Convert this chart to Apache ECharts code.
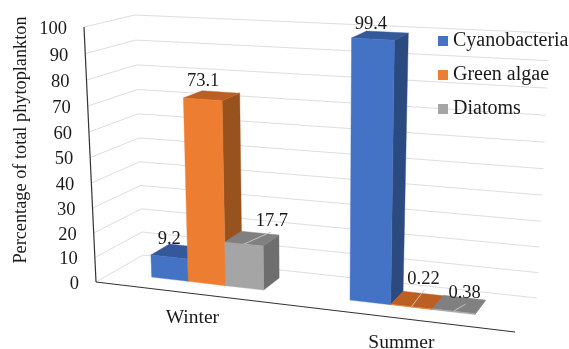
<!DOCTYPE html>
<html>
<head>
<meta charset="utf-8">
<style>html,body{margin:0;padding:0;background:#fff}#chart{width:569px;height:349px}</style>
<script src="https://cdn.jsdelivr.net/npm/echarts@6/dist/echarts.min.js"></script>
</head>
<body>
<div id="chart"></div>
<script>
// Phytoplankton composition by season
const seasons = ['Winter', 'Summer'];
const cyanobacteria = [9.2, 99.4];
const greenAlgae = [73.1, 0.22];
const diatoms = [17.7, 0.38];
const yTicks = [0, 10, 20, 30, 40, 50, 60, 70, 80, 90, 100];
const axisTitle = 'Percentage of total phytoplankton';

const SERIF = '"Liberation Serif", "Times New Roman", serif';

// Corners of the drawn box: floor and ceiling, front and back
const box = {
  floor: { fl: [96, 282], fr: [515, 332], bl: [143, 255], br: [537, 298] },
  roof:  { fl: [84, 27],  fr: [524, 53],  bl: [135, 15],  br: [550, 33] }
};
const lerp = (a, b, t) => [a[0] + (b[0] - a[0]) * t, a[1] + (b[1] - a[1]) * t];
const foreshorten = (t, q) => t / (t + (1 - t) * q);

function onPlane(plane, c, d) {
  return lerp(lerp(plane.fl, plane.fr, c), lerp(plane.bl, plane.br, c), d);
}
// u across, v up, d into the page, each in 0..1
function project(u, v, d) {
  const c = foreshorten(u, 1.116);
  return lerp(onPlane(box.floor, c, d), onPlane(box.roof, c, d), foreshorten(v, 1.05));
}
function unit(api, coordSys, cat, val) {
  const p = api.coord([cat, val]);
  return [(p[0] - coordSys.x) / coordSys.width, 1 - (p[1] - coordSys.y) / coordSys.height];
}

const BAR_FRONT = 0.35, BAR_BACK = 0.76, BAR_SHARE = 0.1926;

function face(points, fill) {
  return { type: 'polygon', shape: { points }, style: { fill, stroke: fill, lineWidth: 0.4 }, silent: true };
}
function caption(text, x, y, size, extra) {
  return Object.assign({
    type: 'text', x, y, z2: 50, silent: true,
    style: { text, fill: '#1a1a1a', font: size + 'px ' + SERIF, align: 'center', verticalAlign: 'middle' }
  }, extra || {});
}

// One shaded column per category; slot picks its place in the cluster
function barSeries(name, values, slot, shades, notes) {
  return {
    type: 'custom',
    name,
    coordinateSystem: 'cartesian2d',
    itemStyle: { color: shades.front },
    data: values.map((v, i) => [i, v]),
    encode: { x: 0, y: 1 },
    renderItem(params, api) {
      const cat = api.value(0), val = api.value(1);
      const cs = params.coordSys;
      const [u0, v] = unit(api, cs, cat, val);
      const w = api.size([1, 0])[0] * BAR_SHARE / cs.width;
      const left = u0 + (slot - 0.5) * w, right = left + w;
      const P = (u, h, d) => project(u, h, d);
      const anchor = P((left + right) / 2, v, BAR_FRONT);
      const note = notes[params.dataIndex];
      const children = [
        face([P(right, 0, BAR_FRONT), P(right, 0, BAR_BACK), P(right, v, BAR_BACK), P(right, v, BAR_FRONT)], shades.side),
        face([P(left, v, BAR_FRONT), P(left, v, BAR_BACK), P(right, v, BAR_BACK), P(right, v, BAR_FRONT)], shades.top),
        face([P(left, 0, BAR_FRONT), P(right, 0, BAR_FRONT), P(right, v, BAR_FRONT), P(left, v, BAR_FRONT)], shades.front)
      ];
      if (note.leader) {
        children.push({
          type: 'line', silent: true, z2: 40,
          shape: { x1: anchor[0], y1: anchor[1], x2: anchor[0] + note.leader[0], y2: anchor[1] + note.leader[1] },
          style: { stroke: '#c4c4c4', lineWidth: 1 }
        });
      }
      children.push(caption(String(val), anchor[0] + note.at[0], anchor[1] + note.at[1], 18.5));
      return { type: 'group', children };
    }
  };
}

// Gridlines, slanted axes and their labels
const frameSeries = {
  type: 'custom',
  name: 'frame',
  coordinateSystem: 'cartesian2d',
  data: yTicks.map(t => [0, t]),
  encode: { x: 0, y: 1 },
  renderItem(params, api) {
    const cs = params.coordSys;
    const v = unit(api, cs, 0, api.value(1))[1];
    const a = project(0, v, 0), b = project(0, v, 1), c = project(1, v, 1);
    const children = [
      { type: 'polyline', silent: true, shape: { points: [a, b, c] }, style: { stroke: '#dedede', lineWidth: 1, fill: null } },
      caption(String(api.value(1)), a[0] - 17, a[1] + 2, 18.5, {
        style: { text: String(api.value(1)), fill: '#1a1a1a', font: '18.5px ' + SERIF, align: 'right', verticalAlign: 'middle' }
      })
    ];
    if (params.dataIndex === 0) {
      const top = project(0, 1, 0), end = project(1, 0, 0);
      children.push(
        { type: 'line', silent: true, z2: 30, shape: { x1: a[0], y1: a[1], x2: top[0], y2: top[1] }, style: { stroke: '#333', lineWidth: 1.2 } },
        { type: 'line', silent: true, z2: 30, shape: { x1: a[0], y1: a[1], x2: end[0], y2: end[1] }, style: { stroke: '#333', lineWidth: 1.2 } },
        caption(axisTitle, 21, 140, 18.3, {
          rotation: Math.PI / 2,
          style: { text: axisTitle, fill: '#1a1a1a', font: '18.3px ' + SERIF, align: 'center', verticalAlign: 'middle' }
        })
      );
      seasons.forEach((name, i) => {
        const u = unit(api, cs, i, 0)[0];
        const p = project(u, 0, 0);
        children.push(caption(name, p[0], p[1] + 24, 19.5));
      });
    }
    return { type: 'group', children };
  }
};

const chart = echarts.init(document.getElementById('chart'), null, { renderer: 'canvas' });
chart.setOption({
  animation: false,
  backgroundColor: '#ffffff',
  grid: { left: 96, top: 27, width: 420, height: 255 },
  xAxis: { type: 'category', data: seasons, show: false },
  yAxis: { type: 'value', min: 0, max: 100, interval: 10, show: false },
  legend: {
    orient: 'vertical', left: 433, top: 26,
    data: ['Cyanobacteria', 'Green algae', 'Diatoms'],
    icon: 'rect', itemWidth: 10, itemHeight: 10, itemGap: 14,
    selectedMode: false,
    textStyle: { fontFamily: SERIF, fontSize: 20, color: '#1a1a1a', padding: [0, 0, 0, 0] }
  },
  series: [
    frameSeries,
    barSeries('Cyanobacteria', cyanobacteria, -1,
      { front: '#4472c4', top: '#35589a', side: '#2b4a80' },
      [{ at: [0, -18] }, { at: [-2, -15] }]),
    barSeries('Green algae', greenAlgae, 0,
      { front: '#ed7d31', top: '#bc5f22', side: '#97521e' },
      [{ at: [0.5, -18] }, { at: [12, -28], leader: [13, -17] }]),
    barSeries('Diatoms', diatoms, 1,
      { front: '#a5a5a5', top: '#808080', side: '#6e6e6e' },
      [{ at: [28, -23], leader: [27, -12] }, { at: [11, -18], leader: [12, -7] }])
  ]
});
</script>
</body>
</html>
